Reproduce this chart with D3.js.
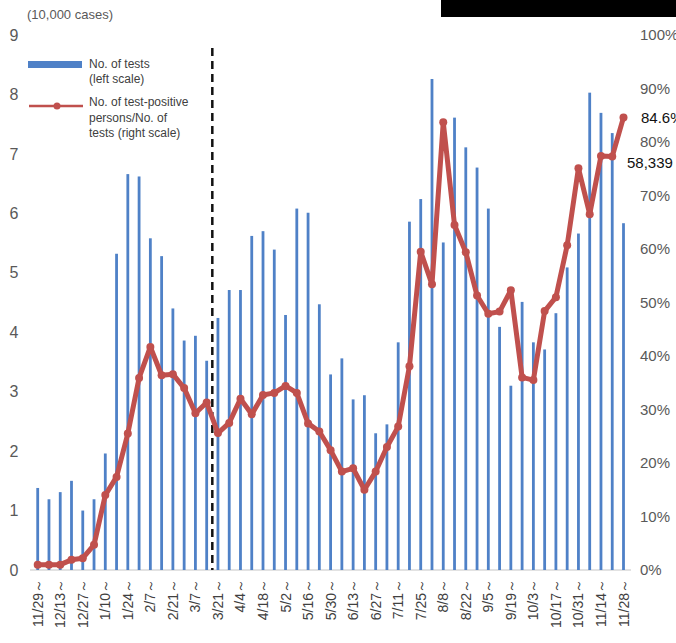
<meta charset="utf-8">
<script src="https://d3js.org/d3.v7.min.js"></script>
<style>
  body { margin: 0; background: #fff; }
  text { font-family: "Liberation Sans", Arial, sans-serif; }
</style>
<div id="chart"></div>
<script>
// weeks (start dates, 2020/11/29 - 2021/11/28)
var weeks = ["11/29", "12/6", "12/13", "12/20", "12/27", "1/3", "1/10", "1/17", "1/24", "1/31",
  "2/7", "2/14", "2/21", "2/28", "3/7", "3/14", "3/21", "3/28", "4/4", "4/11",
  "4/18", "4/25", "5/2", "5/9", "5/16", "5/23", "5/30", "6/6", "6/13", "6/20",
  "6/27", "7/4", "7/11", "7/18", "7/25", "8/1", "8/8", "8/15", "8/22", "8/29",
  "9/5", "9/12", "9/19", "9/26", "10/3", "10/10", "10/17", "10/24", "10/31", "11/7",
  "11/14", "11/21", "11/28"]

// No. of tests (10,000 cases)
var tests = [1.38, 1.19, 1.31, 1.50, 1.00, 1.19, 1.96, 5.32, 6.66, 6.62,
  5.58, 5.28, 4.40, 3.86, 3.94, 3.52, 4.24, 4.71, 4.71, 5.62,
  5.70, 5.39, 4.29, 6.08, 6.01, 4.47, 3.29, 3.56, 2.87, 2.94,
  2.30, 2.45, 3.83, 5.86, 6.24, 8.26, 5.51, 7.61, 7.11, 6.77,
  6.08, 4.09, 3.10, 4.51, 3.83, 3.71, 4.32, 5.09, 5.66, 8.03,
  7.69, 7.35, 5.8339]

// positives / tests (%)
var rate = [1.0, 1.0, 1.0, 1.9, 2.2, 4.7, 14.0, 17.4, 25.5, 35.9,
  41.7, 36.4, 36.6, 34.0, 29.3, 31.3, 25.6, 27.5, 32.0, 29.1,
  32.7, 33.1, 34.4, 33.1, 27.4, 25.9, 22.4, 18.4, 19.0, 15.0,
  18.4, 23.0, 26.8, 38.1, 59.5, 53.4, 83.7, 64.5, 59.4, 51.3,
  47.9, 48.3, 52.3, 36.0, 35.5, 48.4, 51.0, 60.7, 75.1, 66.5,
  77.4, 77.3, 84.6]

var leftTicks = [0, 1, 2, 3, 4, 5, 6, 7, 8, 9]
var rightTicks = [0, 10, 20, 30, 40, 50, 60, 70, 80, 90, 100]

var W = 676, H = 643
var svg = d3.select("#chart").append("svg")
  .attr("width", W).attr("height", H)

var x = d3.scalePoint().domain(weeks).range([37.7, 623.5])
var yL = d3.scaleLinear().domain([0, 9]).range([570, 35])
var yR = d3.scaleLinear().domain([0, 100]).range([570, 35])

var blue = "#4f81c7", red = "#c0504d", grey = "#595959"

// baseline
svg.append("line")
  .attr("x1", 30).attr("x2", 631)
  .attr("y1", yL(0)).attr("y2", yL(0))
  .attr("stroke", "#d9d9d9").attr("stroke-width", 1.5)

// left axis
var axL = svg.append("g").attr("transform", "translate(22,0)")
  .call(d3.axisLeft(yL).tickValues(leftTicks).tickSize(0).tickPadding(0))
axL.select(".domain").remove()
axL.selectAll("text").attr("font-size", 16).attr("fill", grey)
  .attr("text-anchor", "middle").attr("x", -8)

// right axis
var axR = svg.append("g").attr("transform", "translate(640,0)")
  .call(d3.axisRight(yR).tickValues(rightTicks).tickFormat(function(d) { return d + "%" })
    .tickSize(0).tickPadding(0))
axR.select(".domain").remove()
axR.selectAll("text").attr("font-size", 15).attr("fill", grey)

svg.append("text").attr("x", 27).attr("y", 19)
  .attr("font-size", 13).attr("fill", grey).text("(10,000 cases)")

// bars
svg.selectAll("rect.bar").data(tests).enter().append("rect")
  .attr("class", "bar")
  .attr("x", function(d, i) { return x(weeks[i]) - 1.4 })
  .attr("width", 2.8)
  .attr("y", function(d) { return yL(d) })
  .attr("height", function(d) { return yL(0) - yL(d) })
  .attr("fill", blue)

// x labels (every other week)
svg.selectAll("text.xl").data(weeks.filter(function(d, i) { return i % 2 === 0 }))
  .enter().append("text")
  .attr("class", "xl")
  .attr("transform", function(d) { return "translate(" + (x(d) + 5) + ",579) rotate(-90)" })
  .attr("text-anchor", "end")
  .attr("font-size", 14).attr("fill", "#404040")
  .text(function(d) { return d + "～" })

// dashed divider
svg.append("line")
  .attr("x1", (x("3/14") + x("3/21")) / 2).attr("x2", (x("3/14") + x("3/21")) / 2)
  .attr("y1", 48).attr("y2", 570)
  .attr("stroke", "#111").attr("stroke-width", 2.5)
  .attr("stroke-dasharray", "8,5")

// line
var line = d3.line()
  .x(function(d, i) { return x(weeks[i]) })
  .y(function(d) { return yR(d) })
svg.append("path").datum(rate)
  .attr("d", line)
  .attr("fill", "none").attr("stroke", red)
  .attr("stroke-width", 5).attr("stroke-linejoin", "round")
svg.selectAll("circle.pt").data(rate).enter().append("circle")
  .attr("class", "pt")
  .attr("cx", function(d, i) { return x(weeks[i]) })
  .attr("cy", function(d) { return yR(d) })
  .attr("r", 4).attr("fill", red)

// end labels
var last = weeks.length - 1
svg.append("text").attr("x", 641).attr("y", yR(rate[last]) + 6)
  .attr("font-size", 15).attr("fill", "#111")
  .text(rate[last].toFixed(1) + "%")
svg.append("text").attr("x", 627).attr("y", 168)
  .attr("font-size", 15).attr("fill", "#111")
  .text(d3.format(",")(Math.round(tests[last] * 10000)))

// legend
var lg = svg.append("g").attr("font-size", 12).attr("fill", "#404040")
lg.append("rect").attr("x", 28).attr("y", 61).attr("width", 54).attr("height", 7).attr("fill", blue)
lg.append("text").attr("x", 89).attr("y", 68).text("No. of tests")
lg.append("text").attr("x", 89).attr("y", 83).text("(left scale)")
lg.append("line").attr("x1", 29).attr("x2", 83).attr("y1", 106).attr("y2", 106)
  .attr("stroke", red).attr("stroke-width", 2.5)
lg.append("circle").attr("cx", 57).attr("cy", 106).attr("r", 3.5).attr("fill", red)
lg.append("text").attr("x", 89).attr("y", 106).text("No. of test-positive")
lg.append("text").attr("x", 89).attr("y", 122).text("persons/No. of")
lg.append("text").attr("x", 89).attr("y", 137).text("tests (right scale)")

// redaction bar at top
svg.append("rect").attr("x", 441).attr("y", 0).attr("width", 235).attr("height", 17).attr("fill", "#000")
</script>
